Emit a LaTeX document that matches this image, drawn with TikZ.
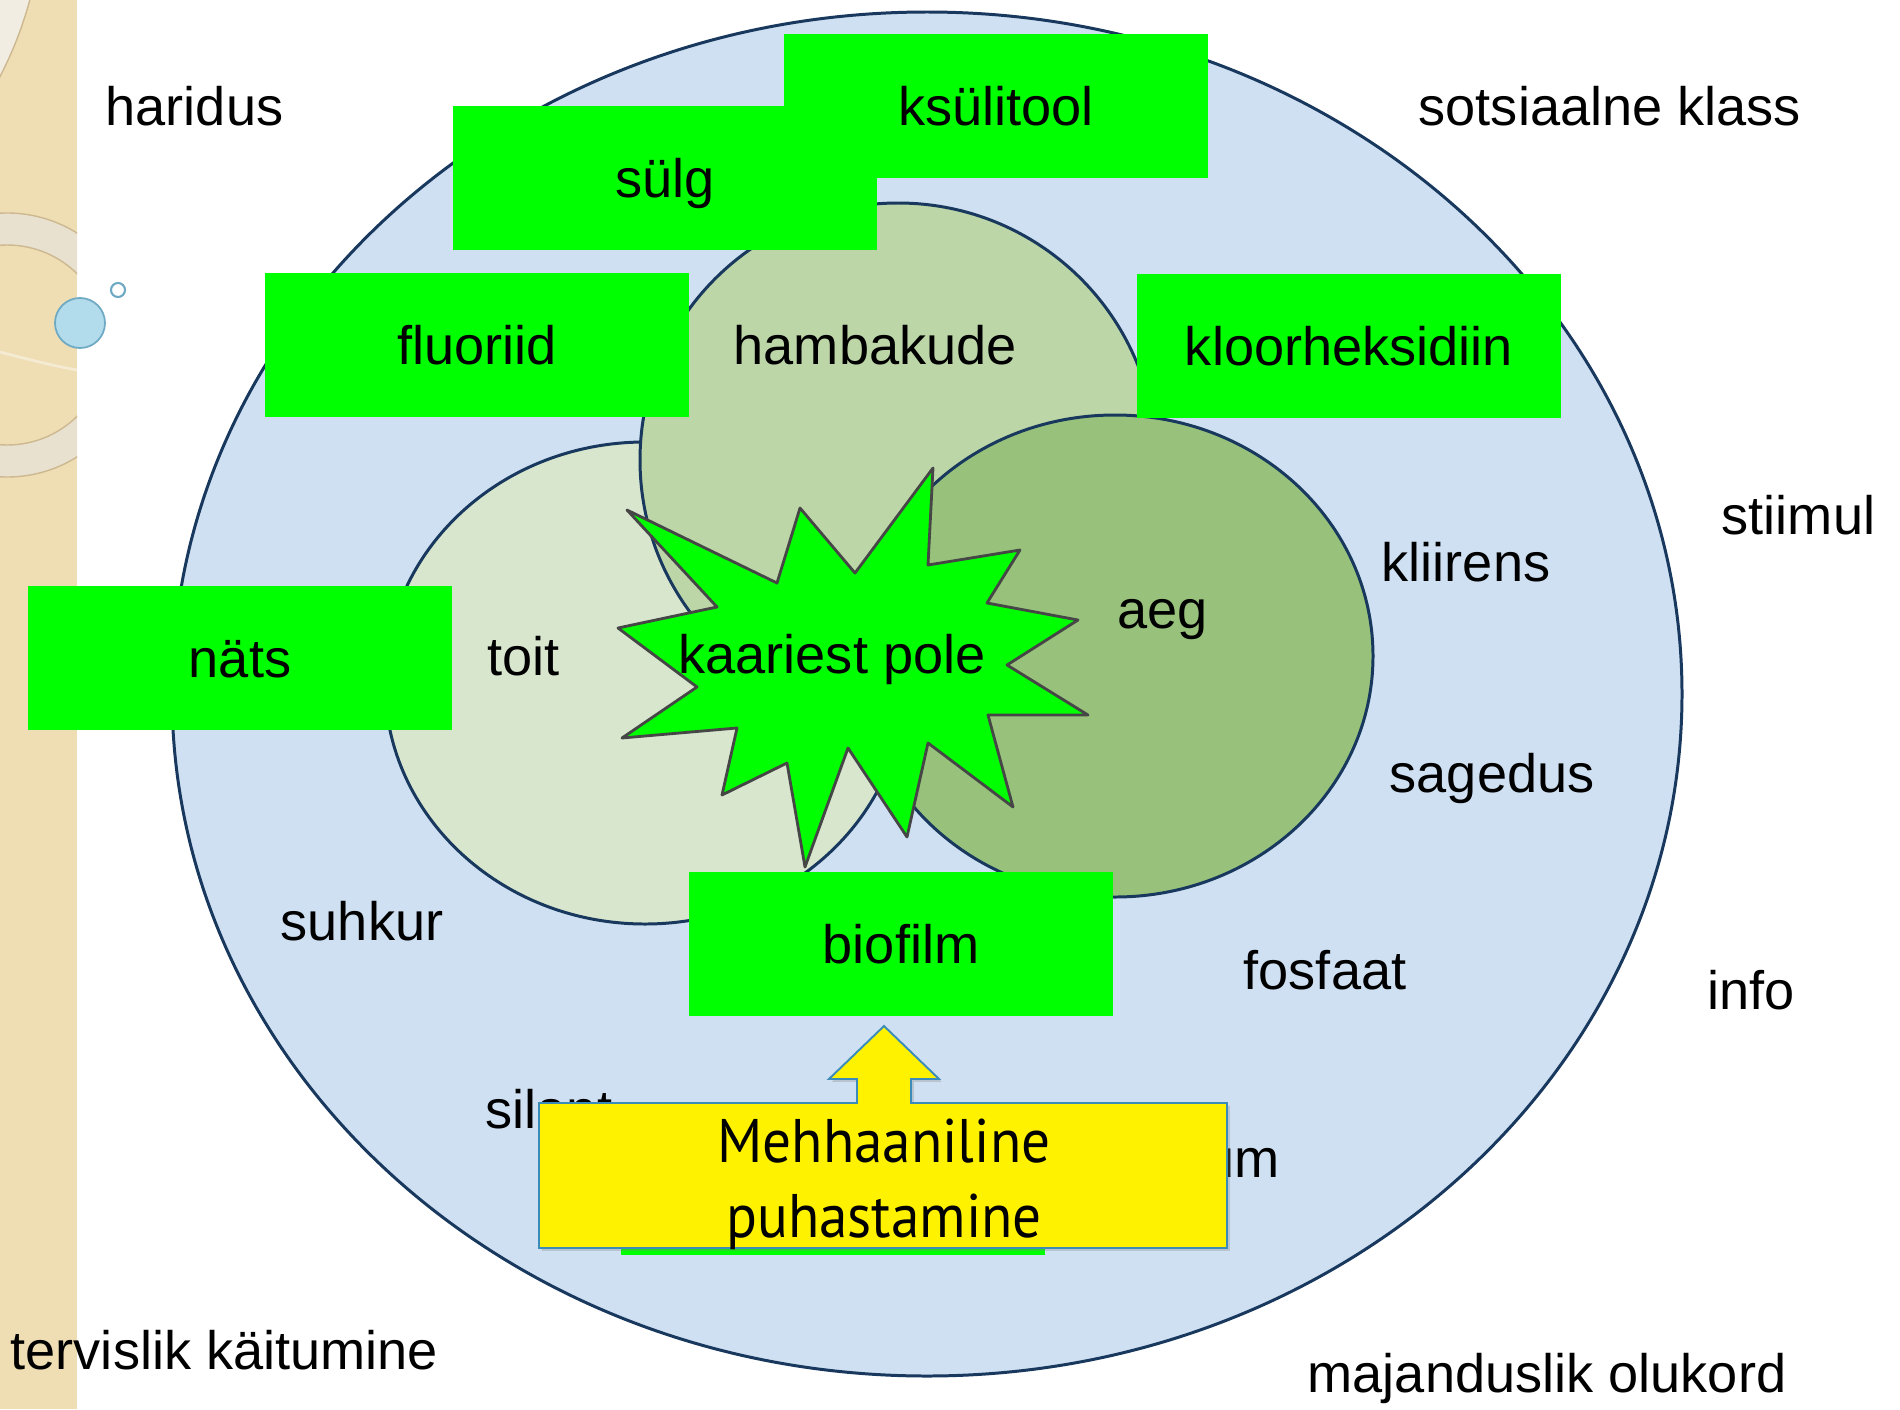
\documentclass[tikz,border=0pt]{standalone}
\usepackage{fontspec}
\setmainfont{Liberation Sans}
\newfontfamily\calloutfont{PT Sans}[FakeStretch=0.93]
\usetikzlibrary{shadows}

\definecolor{stripTan}{RGB}{239,221,180}
\definecolor{stripRing}{RGB}{233,225,208}
\definecolor{stripLine}{RGB}{205,185,145}
\definecolor{bubbleFill}{RGB}{178,220,236}
\definecolor{bubbleEdge}{RGB}{110,170,195}
\definecolor{outerBlue}{RGB}{207,224,242}
\definecolor{toitGreen}{RGB}{216,230,206}
\definecolor{hambaGreen}{RGB}{189,214,168}
\definecolor{aegGreen}{RGB}{152,194,124}
\definecolor{zoneEdge}{RGB}{24,56,94}
\definecolor{boxGreen}{RGB}{0,255,0}
\definecolor{starEdge}{RGB}{70,70,70}
\definecolor{calloutEdge}{RGB}{60,140,185}

\begin{document}
\begin{tikzpicture}
  [x=0.01cm,y=-0.01cm,
   every node/.style={inner sep=0pt,font=\fontsize{15.4}{18}\selectfont},
   lbl/.style={anchor=base west},
   greenbox/.style={fill=boxGreen,minimum width=4.24cm,minimum height=1.43cm,text height=11pt,text depth=0pt},
   zone/.style={draw=zoneEdge,line width=0.85pt}]
  \useasboundingbox (0,0) rectangle (1900,1409);

  % slide strip on the left
  \fill[stripTan] (0,0) rectangle (77,1409);
  \begin{scope}
    \clip (0,0) rectangle (77,1409);
    \filldraw[fill=stripRing!60!white,draw=stripLine] (-340,-100) circle (383);
    \filldraw[fill=stripRing,draw=stripLine,even odd rule] (7,345) circle (132) (7,345) circle (100);
    \draw[white!40!stripTan,line width=0.8pt] (0,352) .. controls (30,360) and (55,366) .. (77,370);
  \end{scope}
  \filldraw[fill=bubbleFill,draw=bubbleEdge,line width=0.5pt] (80,323) circle (25);
  \draw[bubbleEdge,line width=0.6pt] (118,290) circle (7);

  % zones
  \draw[zone,fill=outerBlue] (927,694) ellipse (755 and 682);
  \draw[zone,fill=toitGreen] (645,683) ellipse (260 and 241);
  \draw[zone,fill=hambaGreen] (898,460) ellipse (258 and 257);
  \draw[zone,fill=aegGreen] (1115,656) ellipse (258 and 241);

  % green boxes
  \node[greenbox] (sulg) at (665,178) {sülg};
  \node[greenbox] (ksulitool) at (996,106) {ksülitool};
  \node[greenbox] (fluoriid) at (477,345) {fluoriid};
  \node[greenbox] (kloor) at (1349,346) {kloorheksidiin};
  \node[greenbox] (nats) at (240,658) {näts};
  \node[greenbox] (biofilm) at (901,944) {biofilm};
  \node[greenbox] (hidden) at (833,1183) {};

  % labels
  \node[lbl] (haridus) at (105,125) {haridus};
  \node[lbl] (sotsiaalne) at (1418,125) {sotsiaalne klass};
  \node[lbl] (stiimul) at (1721,534) {stiimul};
  \node[lbl] (kliirens) at (1381,581) {kliirens};
  \node[lbl] (hambakude) at (733,364) {hambakude};
  \node[lbl] (aeg) at (1117,628) {aeg};
  \node[lbl] (toit) at (487,675) {toit};
  \node[lbl] (sagedus) at (1389,792) {sagedus};
  \node[lbl] (suhkur) at (280,940) {suhkur};
  \node[lbl] (fosfaat) at (1243,989) {fosfaat};
  \node[lbl] (info) at (1707,1009) {info};
  \node[lbl] (silant) at (485,1128) {silant};
  \node[anchor=base east] (kaltsium) at (1280,1177) {kaltsium};
  \node[lbl] (tervislik) at (10,1369) {tervislik käitumine};
  \node[lbl] (majanduslik) at (1307,1392) {majanduslik olukord};

  % explosion
  \filldraw[fill=boxGreen,draw=starEdge,line width=0.8pt,line join=round]
    (627,510) -- (777,583) -- (800,508) -- (855,573) -- (933,468) -- (928,565)
    -- (1020,550) -- (987,603) -- (1078,620) -- (1007,665) -- (1088,715) -- (988,715)
    -- (1013,807) -- (928,743) -- (907,837) -- (848,748) -- (805,867) -- (787,763)
    -- (722,795) -- (737,728) -- (622,738) -- (697,687) -- (618,628) -- (717,607) -- cycle;
  \node[anchor=base] (kaaries) at (832,673) {kaariest pole};

  % callout
  \filldraw[fill=yellow,draw=calloutEdge,line width=0.55pt,
            drop shadow={opacity=0.3,shadow xshift=0.8pt,shadow yshift=-0.8pt}]
    (539,1103) -- (857,1103) -- (857,1079) -- (829,1079) -- (884,1026) -- (939,1079)
    -- (911,1079) -- (911,1103) -- (1227,1103) -- (1227,1248) -- (539,1248) -- cycle;
  \node[anchor=base,font=\calloutfont\fontsize{17.5}{21}\selectfont] (mehh) at (884,1162) {Mehhaaniline};
  \node[anchor=base,font=\calloutfont\fontsize{17.5}{21}\selectfont] (puhast) at (884,1237) {puhastamine};
\end{tikzpicture}
\end{document}
